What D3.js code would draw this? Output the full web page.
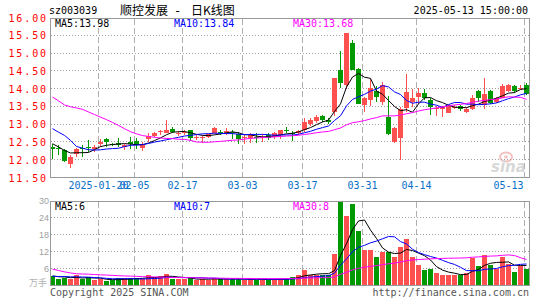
<!DOCTYPE html>
<html><head><meta charset="utf-8">
<script src="https://cdn.jsdelivr.net/npm/d3@7"></script>
<style>body{margin:0;background:#fff}svg{display:block}</style>
</head><body>
<svg id="c" width="545" height="300"></svg>
<script>
const dates = ["01-08","01-09","01-10","01-13","01-14","01-15","01-16","01-17","01-20","01-21","01-22","01-23","01-24","01-27",
"02-05","02-06","02-07","02-10","02-11","02-12","02-13","02-14","02-17","02-18","02-19","02-20","02-21","02-24","02-25","02-26","02-27","02-28",
"03-03","03-04","03-05","03-06","03-07","03-10","03-11","03-12","03-13","03-14","03-17","03-18","03-19","03-20","03-21","03-24","03-25","03-26","03-27","03-28","03-31",
"04-01","04-02","04-03","04-07","04-08","04-09","04-10","04-11","04-14","04-15","04-16","04-17","04-18","04-21","04-22","04-23","04-24","04-25","04-28","04-29","04-30",
"05-06","05-07","05-08","05-09","05-12","05-13"];
const open = [12.36,12.34,12.26,11.87,12.15,12.34,12.37,12.31,12.43,12.59,
12.44,12.48,12.36,12.50,12.53,12.34,12.57,12.67,12.80,12.75,
12.87,12.73,12.77,12.83,12.63,12.61,12.64,12.75,12.78,12.75,
12.78,12.71,12.62,12.61,12.65,12.63,12.69,12.64,12.69,12.85,
12.75,12.74,12.83,13.00,13.08,13.23,13.11,13.35,14.51,14.10,
15.28,14.55,13.54,13.68,13.92,13.63,13.21,12.50,12.62,13.46,
13.63,13.77,13.89,13.68,13.43,13.42,13.32,13.46,13.51,13.35,
13.44,13.92,13.54,13.92,13.63,13.75,13.94,14.08,14.02,14.10];
const close = [12.31,12.32,11.96,12.08,12.31,12.32,12.35,12.36,12.50,12.50,
12.43,12.42,12.42,12.43,12.41,12.43,12.66,12.76,12.81,12.85,
12.78,12.74,12.79,12.62,12.64,12.63,12.71,12.90,12.74,12.81,
12.76,12.58,12.64,12.71,12.63,12.65,12.62,12.74,12.83,12.80,
12.73,12.81,13.07,13.11,13.21,13.11,13.07,14.29,14.17,15.57,
14.53,13.58,13.75,14.01,13.77,14.10,12.71,12.90,13.42,13.91,
13.73,13.89,13.75,13.47,13.46,13.47,13.51,13.48,13.42,13.44,
13.75,13.73,13.85,13.60,13.73,14.08,14.10,13.94,14.03,13.85];
const high = [12.45,12.41,12.31,12.12,12.34,12.41,12.55,12.41,12.57,12.62,
12.47,12.62,12.45,12.64,12.60,12.50,12.74,12.78,12.85,13.11,
12.91,12.80,12.85,12.85,12.69,12.69,12.73,12.92,12.85,12.88,
12.85,12.78,12.69,12.74,12.74,12.71,12.74,12.78,12.85,12.91,
12.80,12.85,13.16,13.18,13.25,13.27,13.16,14.29,15.05,15.57,
15.36,14.58,13.77,14.27,14.06,14.20,13.79,12.93,13.48,14.42,
13.98,14.01,13.98,13.73,13.52,13.50,13.54,13.54,13.55,13.47,
13.82,13.96,14.30,13.96,13.77,14.13,14.13,14.10,14.10,14.15];
const low = [12.03,12.12,11.93,11.77,12.08,12.08,12.22,12.22,12.36,12.36,
12.38,12.36,12.28,12.31,12.31,12.25,12.50,12.64,12.69,12.74,
12.75,12.66,12.70,12.53,12.55,12.47,12.62,12.72,12.69,12.69,
12.57,12.45,12.45,12.47,12.47,12.50,12.55,12.59,12.59,12.74,
12.53,12.70,12.78,12.94,13.04,13.07,13.00,13.24,14.01,14.00,
14.51,13.56,13.35,13.51,13.63,13.54,12.69,12.47,12.00,13.35,
13.47,13.58,13.69,13.27,13.22,13.19,13.30,13.42,13.38,13.30,
13.40,13.63,13.42,13.56,13.60,13.73,13.90,13.87,13.96,13.82];
const volume = [3.4,2.2,2.8,2.2,3.8,2.2,2.9,2.0,2.2,1.6,
1.8,2.6,2.6,2.6,2.6,2.2,3.6,2.9,3.5,4.0,
2.2,2.3,2.2,2.6,2.0,2.2,2.1,2.8,2.2,2.3,
2.2,2.4,2.0,2.3,2.1,2.0,2.1,2.4,2.4,2.4,
3.0,3.8,5.6,3.8,3.8,3.8,3.8,11.0,30.5,24.6,
28.6,19.2,12.7,12.7,9.9,11.8,11.8,10.2,13.5,16.3,
9.9,7.3,5.6,6.0,4.5,3.8,3.8,3.6,3.6,4.5,
9.6,7.0,10.8,7.3,6.0,9.9,7.7,4.9,6.9,6.0];
// closes / volumes of the 29 sessions before the visible window (only feed the moving averages)
const prevCloses = [15.5,15.45,13.6,13.3,13.5,14.6,14.5,14.7,14.6,14.8,15.0,15.1,15.0,14.2,13.9,13.4,13.5,13.4,13.2,12.9,
13.32,12.86,13.48,14.01,12.82,12.77,12.46,12.43,12.28];
const prevVolumes = [17,17,14,12,5,4.5,6,5.5,4,5,6,5,4.5,5,5.5,4.5,5,4.8,5.2,5,
3.5,3,3.2,3.6,3.0,3.4,3.2,3.5,3.2];
const priceTicks = [16,15.5,15,14.5,14,13.5,13,12.5,12,11.5];
const volTicks = [30,24,18,12,6];
const dateTicks = ["01-20","02-05","02-17","03-03","03-17","03-31","04-14","05-13"];
const dateTickLabels = ["2025-01-20","02-05","02-17","03-03","03-17","03-31","04-14","05-13"];
const priceMaLabels = ["MA5:13.98","MA10:13.84","MA30:13.68"];
const volMaLabels = ["MA5:6","MA10:7","MA30:8"];
const maPeriods = [5,10,30];
const maColors = ["#000000","#0000ff","#ff00ff"];

const svg = d3.select("#c");
const mono = "'DejaVu Sans Mono', monospace";
const cjk = "'Noto Sans CJK SC', sans-serif";
const UP = "#ff5050", DOWN = "#009900";

const x = d3.scaleBand().domain(dates).range([50,530]).paddingInner(0).paddingOuter(0);
const yP = d3.scaleLinear().domain([11.5,16]).range([177.5,17.5]);
const yV = d3.scaleLinear().domain([0,30]).range([285.5,200.5]);

const crisp = v => Math.floor(v)+0.5;

function movingAvg(prev, cur, n){
  const all = prev.concat(cur);
  return cur.map((_,i)=>{
    const end = prev.length + i;
    return d3.sum(all.slice(end-n+1, end+1))/n;
  });
}

svg.append("defs").html(`<clipPath id="cpP"><rect x="50" y="18" width="480" height="160"/></clipPath>
<clipPath id="cpV"><rect x="50" y="201" width="480" height="85"/></clipPath>`);

// ---------- grid lines ----------
const gP = svg.append("g");
priceTicks.filter(t=>t<16 && t>11.5).forEach(t=>{
  gP.append("line").attr("x1",51).attr("x2",529).attr("y1",crisp(yP(t))).attr("y2",crisp(yP(t)))
    .attr("stroke","#a0a0a0").attr("stroke-dasharray","1,2");
});
volTicks.filter(t=>t<30).forEach(t=>{
  gP.append("line").attr("x1",51).attr("x2",529).attr("y1",crisp(yV(t))).attr("y2",crisp(yV(t)))
    .attr("stroke","#a0a0a0").attr("stroke-dasharray","1,2");
});
dateTicks.forEach(d=>{
  const xx = x(d)+0.5;
  gP.append("line").attr("x1",xx).attr("x2",xx).attr("y1",19).attr("y2",177)
    .attr("stroke","#b0b0b0").attr("stroke-dasharray","6,3");
  gP.append("line").attr("x1",xx).attr("x2",xx).attr("y1",202).attr("y2",285)
    .attr("stroke","#b0b0b0").attr("stroke-dasharray","6,3");
});

// ---------- candles ----------
const gC = svg.append("g").attr("clip-path","url(#cpP)");
dates.forEach((d,i)=>{
  const up = close[i] >= open[i];
  const col = up ? UP : DOWN;
  const x0 = x(d);
  const yh = Math.round(yP(high[i])), yl = Math.round(yP(low[i]));
  gC.append("rect").attr("x",x0+2).attr("width",1).attr("y",yh).attr("height",Math.max(1,yl-yh)).attr("fill",col);
  const yt = Math.round(yP(Math.max(open[i],close[i]))), yb = Math.round(yP(Math.min(open[i],close[i])));
  gC.append("rect").attr("x",x0).attr("width",5).attr("y",yt).attr("height",Math.max(1,yb-yt)).attr("fill",col);
});

maPeriods.forEach((n,k)=>{
  const ma = movingAvg(prevCloses, close, n);
  gC.append("path").datum(ma)
    .attr("d", d3.line().x((v,i)=>x(dates[i])+2.5).y(v=>yP(v)))
    .attr("fill","none").attr("stroke",maColors[k]).attr("stroke-width",1);
});

// ---------- volume ----------
const gV = svg.append("g").attr("clip-path","url(#cpV)");
dates.forEach((d,i)=>{
  const up = close[i] >= open[i];
  const yt = Math.round(yV(volume[i]));
  gV.append("rect").attr("x",x(d)).attr("width",5).attr("y",yt).attr("height",286-yt)
    .attr("fill", up ? UP : DOWN);
});
maPeriods.forEach((n,k)=>{
  const ma = movingAvg(prevVolumes, volume, n);
  gV.append("path").datum(ma)
    .attr("d", d3.line().x((v,i)=>x(dates[i])+2.5).y(v=>yV(v)))
    .attr("fill","none").attr("stroke",maColors[k]).attr("stroke-width",1);
});

// ---------- frames ----------
svg.append("rect").attr("x",50.5).attr("y",18.5).attr("width",479).attr("height",159)
  .attr("fill","none").attr("stroke","#999");
svg.append("rect").attr("x",50.5).attr("y",201.5).attr("width",479).attr("height",84)
  .attr("fill","none").attr("stroke","#999");

// ---------- axes text ----------
const axP = d3.axisLeft(yP).tickValues(priceTicks).tickSize(0).tickPadding(0).tickFormat(d3.format(".2f"));
const gA = svg.append("g").attr("transform","translate(48,0)").call(axP);
gA.select(".domain").remove();
gA.selectAll("text").attr("fill","#ff0000").attr("font-family",mono).attr("font-size","10px")
  .attr("letter-spacing","1.9px").attr("dy","0.35em");

const axV = d3.axisLeft(yV).tickValues(volTicks).tickSize(0).tickPadding(0).tickFormat(d3.format("d"));
const gAV = svg.append("g").attr("transform","translate(49,0)").call(axV);
gAV.select(".domain").remove();
gAV.selectAll("text").attr("fill","#a0a0a0").attr("font-family","'Liberation Sans', sans-serif").attr("font-size","9px").attr("dy","0.35em");

const axX = d3.axisBottom(x).tickValues(dateTicks).tickSize(0).tickPadding(0)
  .tickFormat((d,i)=>dateTickLabels[i]);
const gX = svg.append("g").attr("transform","translate(0,182)").call(axX);
gX.select(".domain").remove();
const lastTick = dateTicks[dateTicks.length-1];
gX.selectAll(".tick").attr("transform", d=>`translate(${x(d)+0.5},0)`);
gX.selectAll("text").attr("fill","#0870c8").attr("font-family",mono).attr("font-size","10px").attr("dy","0.71em")
  .filter(d=>d===lastTick).attr("text-anchor","end").attr("x",-1);

// ---------- labels ----------
const T = (txt,xx,yy,opt={}) => svg.append("text").attr("x",xx).attr("y",yy).text(txt)
  .attr("font-family",opt.ff||mono).attr("font-size",opt.fs||"10px").attr("fill",opt.fill||"#000")
  .attr("text-anchor",opt.anchor||"start");
T("sz003039",49,14);
T("顺控发展",120,15,{ff:cjk,fs:"12px"});
T("-",174,15,{ff:mono,fs:"12px"});
T("日K线图",191,15,{ff:cjk,fs:"12px"});
T("2025-05-13 15:00:00",528,14,{anchor:"end"});
const maX = [55,174,293];
priceMaLabels.forEach((s,k)=>T(s,maX[k],27,{fill:maColors[k]}));
volMaLabels.forEach((s,k)=>T(s,maX[k],210,{fill:maColors[k]}));
T("万手",47,286,{ff:cjk,fs:"9px",fill:"#b0b0b0",anchor:"end"});
T("Copyright 2025 SINA.COM",50,296,{fill:"#555"});
T("http://finance.sina.com.cn",529,296,{fill:"#555",anchor:"end"});

// watermark
const wm = svg.append("g").attr("opacity",0.55);
wm.append("ellipse").attr("cx",506).attr("cy",157).attr("rx",6).attr("ry",4.5).attr("fill","none").attr("stroke","#e89090").attr("stroke-width",2);
wm.append("circle").attr("cx",506).attr("cy",157).attr("r",1.8).attr("fill","#e89090");
wm.append("text").attr("x",491).attr("y",172).text("sina").attr("font-family","'DejaVu Sans', sans-serif")
  .attr("font-size","15px").attr("font-weight","bold").attr("font-style","italic").attr("fill","#b8b8b8");
</script>
</body></html>
